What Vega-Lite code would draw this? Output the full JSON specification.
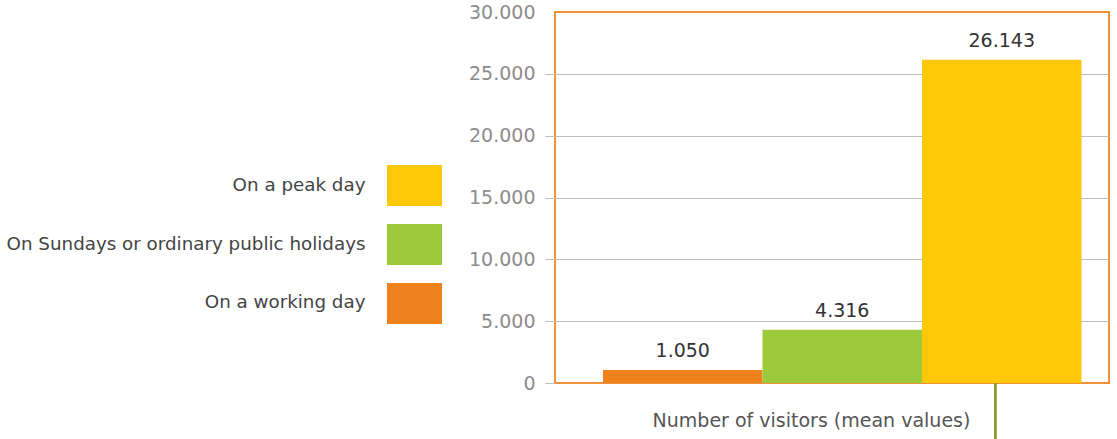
{
  "$schema": "https://vega.github.io/schema/vega-lite/v6.json",
  "padding": {"left": 6, "top": 2, "right": 0, "bottom": 0},
  "background": "white",
  "config": {
    "font": "DejaVu Sans",
    "locale": {"number": {"decimal": ",", "thousands": ".", "grouping": [3], "currency": ["", " €"]}},
    "concat": {"spacing": 25}
  },
  "data": {"values": [
    {"category": "On a working day", "visitors": 1050},
    {"category": "On Sundays or ordinary public holidays", "visitors": 4316},
    {"category": "On a peak day", "visitors": 26143}
  ]},
  "hconcat": [
    {
      "width": 55,
      "height": 371,
      "view": {"stroke": null},
      "mark": {"type": "bar"},
      "encoding": {
        "y": {
          "field": "category", "type": "nominal",
          "sort": ["On a peak day", "On Sundays or ordinary public holidays", "On a working day"],
          "scale": {"range": [153, 312], "paddingInner": 0.305, "paddingOuter": 0},
          "axis": {"title": null, "domain": false, "ticks": false, "labelPadding": 22, "labelFontSize": 18.3, "labelColor": "#444444", "labelLimit": 0}
        },
        "color": {
          "field": "category", "type": "nominal",
          "scale": {"domain": ["On a working day", "On Sundays or ordinary public holidays", "On a peak day"], "range": ["#F0821E", "#9DC93C", "#FDC70A"]},
          "legend": null
        }
      }
    },
    {
      "width": 554,
      "height": 371,
      "view": {"stroke": "#F0923A", "strokeWidth": 2},
      "encoding": {
        "x": {
          "field": "category", "type": "nominal",
          "sort": ["On a working day", "On Sundays or ordinary public holidays", "On a peak day"],
          "scale": {"paddingInner": 0, "paddingOuter": 0.2367, "align": 0.636},
          "axis": {"title": "Number of visitors (mean values)", "labels": false, "ticks": false, "domain": false,
                   "titleFontSize": 19, "titleFontWeight": "normal", "titleColor": "#555555",
                   "titleX": 256, "titleY": 37, "titleBaseline": "middle", "titleAlign": "center", "titleAnchor": null}
        },
        "y": {
          "field": "visitors", "type": "quantitative",
          "scale": {"domain": [0, 30000], "nice": false},
          "axis": {"title": null, "values": [0, 5000, 10000, 15000, 20000, 25000, 30000], "format": ",d",
                   "domain": false, "tickSize": 10,
                   "tickColor": {"condition": {"test": "datum.value === 30000", "value": "transparent"}, "value": "#BDBDBD"},
                   "gridColor": {"condition": {"test": "datum.value === 30000 || datum.value === 0", "value": "transparent"}, "value": "#BDBDBD"},
                   "labelColor": "#8C8C8C", "labelFontSize": 19, "labelPadding": 10}
        }
      },
      "layer": [
        {
          "mark": {"type": "bar"},
          "encoding": {
            "color": {"field": "category", "type": "nominal", "legend": null}
          }
        },
        {
          "mark": {"type": "text", "dy": -19, "fontSize": 19, "color": "#333333", "baseline": "middle"},
          "encoding": {
            "text": {"field": "visitors", "type": "quantitative", "format": ",d"}
          }
        },
        {
          "mark": {"type": "rule", "color": "#8A9A2A", "strokeWidth": 2},
          "encoding": {
            "x": {"datum": "On a peak day", "bandPosition": 0.46},
            "y": {"datum": 0},
            "y2": {"datum": -4600}
          }
        }
      ]
    }
  ]
}
